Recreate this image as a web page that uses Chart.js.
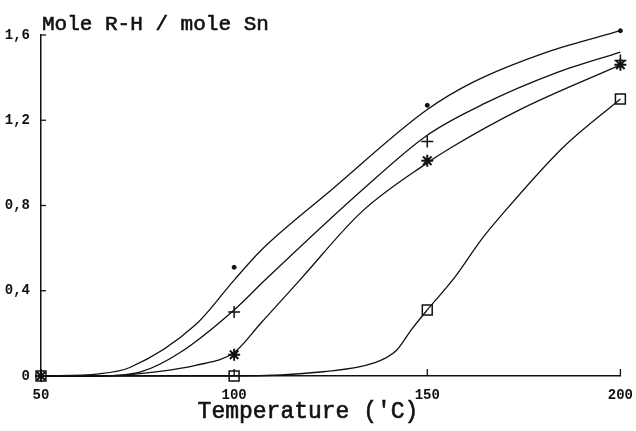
<!DOCTYPE html>
<html>
<head>
<meta charset="utf-8">
<script src="https://cdn.jsdelivr.net/npm/chart.js@4/dist/chart.umd.min.js"></script>
<style>
  html, body { margin: 0; padding: 0; background: #fff; }
  #wrap { width: 636px; height: 431px; }
</style>
</head>
<body>
<div id="wrap"><canvas id="chart" width="636" height="431"></canvas></div>
<script>
// Axis ticks
const xTickValues = [50, 100, 150, 200];
const yTickValues = [0, 0.4, 0.8, 1.2, 1.6];
const yTickLabels = ['0', '0,4', '0,8', '1,2', '1,6'];

// Measured points (markers)
const markerTemps = [50, 100, 150, 200];
const dotValues = [0, 0.51, 1.27, 1.62];
const plusValues = [0, 0.30, 1.10, 1.48];
const starValues = [0, 0.10, 1.01, 1.46];
const squareValues = [0, 0, 0.31, 1.30];

// Fitted curves
const dotCurveT = [50, 65, 73, 90, 100, 107, 125, 150, 162, 181, 200];
const dotCurveV = [0, 0.01, 0.04, 0.24, 0.45, 0.59, 0.87, 1.25, 1.38, 1.52, 1.62];
const plusCurveT = [50, 65, 76, 86, 100, 108, 133, 150, 165, 183, 200];
const plusCurveV = [0, 0, 0.02, 0.11, 0.31, 0.45, 0.87, 1.13, 1.28, 1.42, 1.52];
const starCurveT = [50, 65, 75, 90, 100, 107, 117, 133, 150, 156, 174, 200];
const starCurveV = [0, 0, 0.01, 0.05, 0.11, 0.25, 0.45, 0.77, 1.00, 1.07, 1.25, 1.46];
const squareCurveT = [50, 100, 123, 136, 142, 146, 150, 157, 164, 169, 185, 200];
const squareCurveV = [0, 0, 0.02, 0.06, 0.12, 0.22, 0.31, 0.46, 0.64, 0.75, 1.07, 1.30];

const yTitle = 'Mole R-H / mole Sn';
const xTitle = "Temperature ('C)";

function pts(xs, ys) {
    return xs.map((x, i) => ({ x: x, y: ys[i] }));
}

function curve(xs, ys) {
    return {
        type: 'line',
        data: pts(xs, ys),
        borderColor: '#111',
        borderWidth: 1.3,
        pointRadius: 0,
        fill: false,
        clip: false,
        cubicInterpolationMode: 'monotone'
    };
}

function markers(ys, style, radius, filled, width) {
    return {
        type: 'scatter',
        data: pts(markerTemps, ys),
        pointStyle: style,
        pointRadius: radius,
        pointBorderColor: '#111',
        pointBackgroundColor: filled ? '#111' : 'rgba(0,0,0,0)',
        pointBorderWidth: width,
        clip: false,
        showLine: false
    };
}

// inward tick marks and the two axis titles
const decorPlugin = {
    id: 'decor',
    afterDraw(chart) {
        const ctx = chart.ctx;
        const area = chart.chartArea;
        const xs = chart.scales.x;
        const ys = chart.scales.y;
        ctx.save();
        ctx.strokeStyle = '#111';
        ctx.lineWidth = 1.3;
        yTickValues.forEach(v => {
            const py = ys.getPixelForValue(v);
            ctx.beginPath();
            ctx.moveTo(area.left, py);
            ctx.lineTo(area.left + 5, py);
            ctx.stroke();
        });
        xTickValues.forEach(v => {
            const px = xs.getPixelForValue(v);
            ctx.beginPath();
            ctx.moveTo(px, area.bottom);
            ctx.lineTo(px, area.bottom - 7);
            ctx.stroke();
        });
        ctx.fillStyle = '#111';
        ctx.textBaseline = 'alphabetic';
        ctx.lineWidth = 0.6;
        ctx.font = '21px "Liberation Mono"';
        ctx.textAlign = 'left';
        ctx.fillText(yTitle, area.left + 1, 30);
        ctx.strokeText(yTitle, area.left + 1, 30);
        ctx.font = '23px "Liberation Mono"';
        ctx.textAlign = 'center';
        ctx.fillText(xTitle, 308, 418);
        ctx.strokeText(xTitle, 308, 418);
        ctx.restore();
    }
};

const tickFont = { family: 'Liberation Mono', size: 14, weight: 'bold' };

new Chart(document.getElementById('chart'), {
    data: {
        datasets: [
            curve(dotCurveT, dotCurveV),
            curve(plusCurveT, plusCurveV),
            curve(starCurveT, starCurveV),
            curve(squareCurveT, squareCurveV),
            markers(dotValues, 'circle', 2, true, 1),
            markers(plusValues, 'cross', 6, false, 1.5),
            markers(starValues, 'star', 6, false, 2),
            markers(squareValues, 'rect', 7, false, 1.5)
        ]
    },
    options: {
        responsive: false,
        animation: false,
        layout: { padding: { top: 35, right: 11, left: 0, bottom: 0 } },
        plugins: {
            legend: { display: false },
            tooltip: { enabled: false }
        },
        scales: {
            x: {
                type: 'linear',
                min: 50,
                max: 200,
                afterBuildTicks: s => { s.ticks = xTickValues.map(v => ({ value: v })); },
                afterFit: s => { s.height = 55; },
                grid: { display: false },
                border: { display: true, color: '#111', width: 1.5 },
                ticks: { color: '#111', font: tickFont, padding: 3, maxRotation: 0, autoSkip: false }
            },
            y: {
                type: 'linear',
                min: 0,
                max: 1.6,
                afterBuildTicks: s => { s.ticks = yTickValues.map(v => ({ value: v })); },
                afterFit: s => { s.width = 41; },
                grid: { display: false },
                border: { display: true, color: '#111', width: 1.5 },
                ticks: {
                    color: '#111',
                    font: tickFont,
                    padding: 3,
                    callback: v => yTickLabels[yTickValues.indexOf(v)] || ''
                }
            }
        }
    },
    plugins: [decorPlugin]
});
</script>
</body>
</html>
